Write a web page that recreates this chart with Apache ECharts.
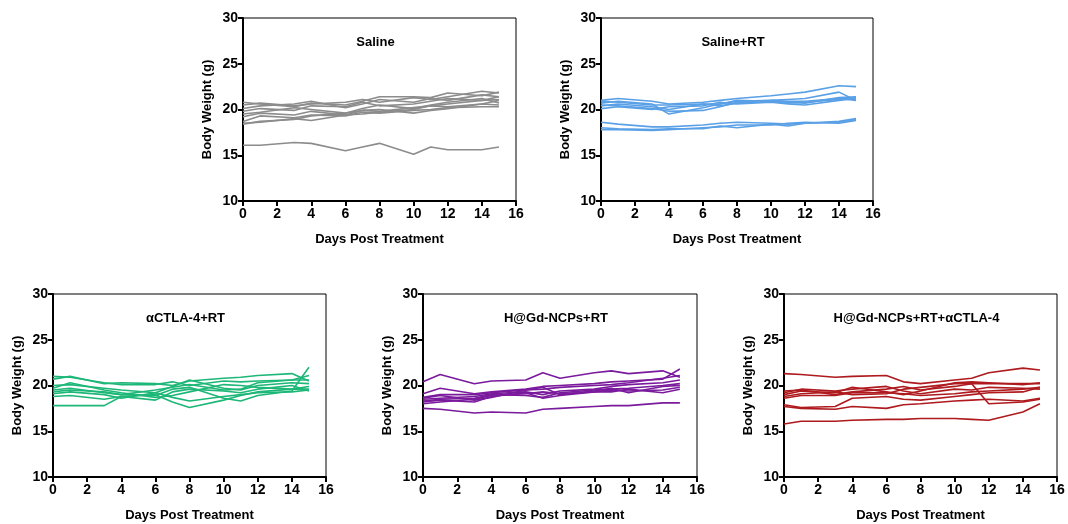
<!DOCTYPE html>
<html>
<head>
<meta charset="utf-8">
<script src="https://cdn.jsdelivr.net/npm/echarts@6/dist/echarts.min.js"></script>
<style>
  html, body { margin: 0; padding: 0; background: #fff; }
  #chart { width: 1068px; height: 524px; }
</style>
</head>
<body>
<div id="chart"></div>
<script>
// measurement days (shared by all groups)
const days = [0, 1, 3, 4, 6, 7, 8, 10, 11, 12, 14, 15];
const xTicks = [0, 2, 4, 6, 8, 10, 12, 14, 16];
const yTicks = [10, 15, 20, 25, 30];

const titles = ['Saline', 'Saline+RT', 'αCTLA-4+RT', 'H@Gd-NCPs+RT', 'H@Gd-NCPs+RT+αCTLA-4'];
const colors = ['#8c8c8c', '#5aa0e6', '#1db777', '#7a1a9c', '#ae1a1e'];

// body weight of each mouse (g), one row per mouse
const saline = [
  [16.1, 16.1, 16.4, 16.3, 15.5, 15.9, 16.3, 15.1, 15.9, 15.6, 15.6, 15.9],
  [20.8, 20.6, 20.3, 20.7, 20.5, 20.9, 21.4, 21.4, 21.3, 21.8, 21.5, 21.9],
  [20.5, 20.7, 20.4, 20.6, 20.8, 21.1, 20.8, 21.3, 21.1, 21.4, 22.0, 21.8],
  [20.1, 20.4, 20.6, 20.9, 20.2, 20.6, 21.1, 20.8, 21.2, 21.0, 21.6, 21.4],
  [19.8, 20.1, 19.9, 20.4, 20.3, 20.8, 20.4, 20.6, 20.9, 21.2, 21.0, 21.1],
  [19.5, 19.7, 20.2, 20.0, 19.6, 20.1, 20.5, 20.1, 20.5, 20.8, 21.2, 20.7],
  [19.2, 19.6, 19.4, 19.8, 19.4, 19.9, 19.8, 20.2, 20.4, 20.3, 20.6, 20.5],
  [18.7, 19.3, 19.1, 19.4, 19.3, 19.7, 19.6, 19.9, 20.0, 20.2, 20.3, 20.3],
  [18.4, 18.7, 18.9, 19.3, 19.6, 19.9, 20.0, 19.6, 19.9, 20.1, 20.6, 21.0],
  [18.5, 18.6, 19.0, 18.8, 19.4, 19.5, 19.7, 20.0, 20.4, 20.6, 21.0, 21.4]
];
const salineRT = [
  [21.0, 21.2, 20.9, 20.6, 20.8, 21.0, 21.2, 21.5, 21.7, 21.9, 22.6, 22.5],
  [20.7, 20.9, 20.6, 19.5, 20.2, 20.6, 20.9, 21.0, 21.1, 21.2, 21.9, 21.0],
  [20.4, 20.6, 20.3, 20.0, 20.6, 20.4, 20.7, 20.9, 20.8, 20.7, 21.3, 21.4],
  [20.1, 20.3, 20.0, 20.3, 20.4, 20.8, 20.6, 20.8, 20.6, 20.5, 21.0, 21.2],
  [20.5, 20.4, 20.1, 19.8, 19.9, 20.3, 20.8, 21.0, 20.9, 20.9, 21.2, 21.0],
  [20.9, 20.8, 20.5, 20.5, 20.6, 20.6, 21.0, 20.9, 20.7, 20.8, 21.1, 21.3],
  [18.6, 18.4, 18.1, 18.1, 18.3, 18.5, 18.6, 18.5, 18.4, 18.5, 18.7, 19.0],
  [18.0, 17.9, 17.8, 17.9, 17.9, 18.2, 18.0, 18.4, 18.2, 18.5, 18.6, 18.9],
  [17.8, 17.8, 17.7, 17.8, 18.0, 18.1, 18.3, 18.3, 18.5, 18.6, 18.5, 18.8]
];
const ctlaRT = [
  [21.0, 20.9, 20.3, 20.1, 20.1, 20.4, 20.0, 20.5, 20.4, 20.5, 20.6, 20.6],
  [20.7, 21.0, 20.2, 20.3, 20.2, 20.0, 20.5, 20.8, 20.9, 21.1, 21.3, 20.5],
  [20.0, 20.1, 19.7, 19.5, 19.2, 19.9, 20.6, 19.7, 19.5, 20.0, 20.3, 20.2],
  [19.5, 19.7, 19.2, 19.0, 18.9, 19.6, 19.8, 18.6, 18.3, 18.9, 19.4, 22.0],
  [19.1, 19.3, 19.0, 18.6, 19.2, 18.7, 18.3, 18.8, 19.0, 19.2, 19.3, 19.5],
  [18.8, 18.9, 18.5, 18.8, 18.4, 19.3, 19.6, 19.4, 19.2, 19.6, 20.0, 19.4],
  [17.8, 17.8, 17.8, 18.8, 19.0, 18.2, 17.6, 18.4, 18.9, 19.3, 19.6, 19.9],
  [19.3, 19.5, 19.3, 19.0, 19.5, 19.8, 20.1, 19.5, 19.6, 20.3, 20.6, 21.1],
  [19.7, 20.3, 19.5, 19.2, 18.7, 18.9, 19.3, 20.1, 20.0, 19.8, 19.6, 19.6]
];
const ncpRT = [
  [20.4, 21.2, 20.2, 20.5, 20.6, 21.4, 20.8, 21.4, 21.6, 21.3, 21.6, 20.9],
  [17.5, 17.4, 17.0, 17.1, 17.0, 17.4, 17.5, 17.7, 17.8, 17.8, 18.1, 18.1],
  [19.1, 19.7, 19.1, 19.3, 19.6, 19.9, 20.0, 20.2, 20.4, 20.5, 20.7, 21.8],
  [18.7, 19.0, 19.0, 19.2, 19.5, 19.6, 19.8, 20.0, 20.1, 20.3, 20.8, 21.1],
  [18.5, 18.6, 18.8, 19.1, 19.3, 19.0, 19.4, 19.6, 19.9, 20.1, 20.3, 20.6],
  [18.3, 18.5, 18.6, 19.0, 18.9, 18.7, 19.2, 19.5, 19.6, 19.7, 20.0, 20.2],
  [18.2, 18.4, 18.2, 18.8, 19.2, 18.6, 18.9, 19.3, 19.5, 19.4, 19.5, 19.8],
  [18.6, 18.9, 18.4, 18.7, 19.5, 19.8, 19.0, 19.4, 19.7, 19.2, 19.9, 20.0],
  [18.0, 18.2, 18.5, 18.9, 19.1, 19.3, 19.1, 19.3, 19.3, 19.6, 19.2, 19.6]
];
const ncpRTctla = [
  [21.3, 21.2, 20.9, 21.0, 21.1, 20.4, 20.2, 20.6, 20.8, 21.4, 21.9, 21.7],
  [15.8, 16.1, 16.1, 16.2, 16.3, 16.3, 16.4, 16.4, 16.3, 16.2, 17.1, 18.0],
  [17.7, 17.5, 17.4, 17.7, 17.5, 17.9, 18.0, 18.3, 18.4, 18.5, 18.3, 18.6],
  [17.9, 17.6, 17.7, 18.6, 18.8, 18.5, 18.4, 18.8, 19.0, 19.2, 19.3, 19.8],
  [19.4, 19.5, 19.0, 19.3, 19.6, 19.9, 19.5, 19.9, 20.2, 20.2, 20.2, 20.2],
  [19.0, 19.4, 19.2, 19.8, 19.3, 19.0, 19.4, 20.3, 20.4, 20.3, 20.1, 20.3],
  [18.8, 19.1, 19.3, 19.0, 19.1, 19.6, 19.8, 20.2, 20.2, 18.0, 18.2, 18.5],
  [19.2, 19.6, 19.4, 19.6, 19.9, 19.4, 19.1, 19.6, 19.5, 19.8, 19.7, 19.6],
  [18.6, 18.9, 18.9, 19.2, 19.2, 19.1, 18.9, 19.1, 19.3, 19.4, 19.6, 19.8]
];
const groups = [saline, salineRT, ctlaRT, ncpRT, ncpRTctla];

// panel boxes in pixels
const boxes = [
  { left: 243, top: 18, width: 273, height: 183 },
  { left: 601, top: 18, width: 272, height: 183 },
  { left: 53, top: 294, width: 273, height: 183 },
  { left: 423, top: 294, width: 274, height: 183 },
  { left: 784, top: 294, width: 273, height: 183 }
];

const font = 'Liberation Sans, Arial, sans-serif';
const grid = [], xAxis = [], yAxis = [], series = [], title = [];

boxes.forEach((b, i) => {
  grid.push(Object.assign({ show: true, borderColor: '#000', borderWidth: 1, backgroundColor: 'transparent' }, b));
  title.push({
    text: titles[i],
    left: b.left + b.width / 2 - 9,
    top: b.top + 13,
    textAlign: 'center',
    textStyle: { fontFamily: font, fontSize: 13, fontWeight: 'bold', color: '#000' }
  });
  xAxis.push({
    type: 'value', gridIndex: i, min: 0, max: 16, interval: 2,
    name: 'Days Post Treatment', nameLocation: 'middle', nameGap: 32,
    nameTextStyle: { fontFamily: font, fontSize: 13, fontWeight: 'bold', color: '#000' },
    axisLine: { lineStyle: { color: '#000', width: 2 } },
    axisTick: { show: true, length: 5, lineStyle: { color: '#000', width: 2 } },
    axisLabel: { fontFamily: font, fontSize: 14, fontWeight: 'bold', color: '#000', margin: 6,
      formatter: v => xTicks.includes(v) ? String(v) : '' },
    splitLine: { show: false }
  });
  yAxis.push({
    type: 'value', gridIndex: i, min: yTicks[0], max: yTicks[yTicks.length - 1], interval: 5,
    name: 'Body Weight (g)', nameLocation: 'middle', nameGap: 29,
    nameTextStyle: { fontFamily: font, fontSize: 13, fontWeight: 'bold', color: '#000' },
    axisLine: { show: true, lineStyle: { color: '#000', width: 2 } },
    axisTick: { show: true, length: 5, lineStyle: { color: '#000', width: 2 } },
    axisLabel: { fontFamily: font, fontSize: 14, fontWeight: 'bold', color: '#000', margin: 5 },
    splitLine: { show: false }
  });
  groups[i].forEach(row => {
    series.push({
      type: 'line', xAxisIndex: i, yAxisIndex: i,
      data: row.map((v, k) => [days[k], v]),
      showSymbol: false, symbol: 'none', silent: true,
      lineStyle: { color: colors[i], width: 1.6 }
    });
  });
});

const chart = echarts.init(document.getElementById('chart'), null, { renderer: 'canvas' });
chart.setOption({
  animation: false,
  backgroundColor: '#fff',
  title: title,
  grid: grid,
  xAxis: xAxis,
  yAxis: yAxis,
  series: series
});
</script>
</body>
</html>
